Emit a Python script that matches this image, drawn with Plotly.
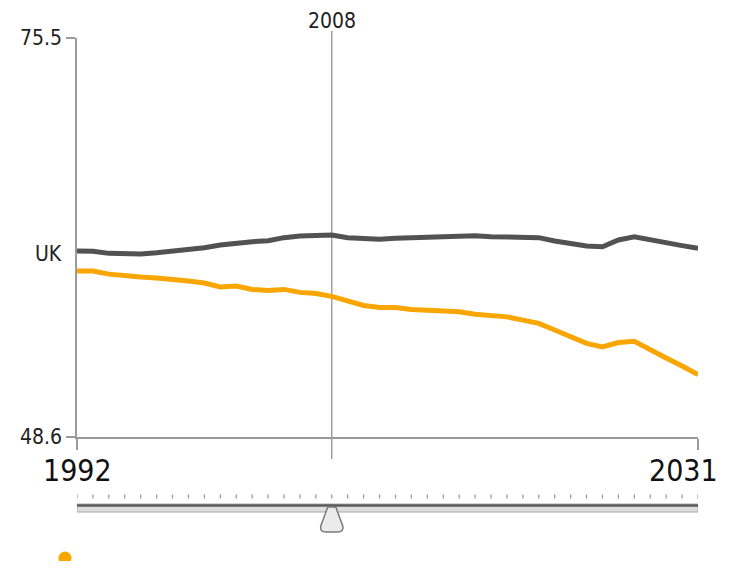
import plotly.graph_objects as go

years = list(range(1992, 2032))
uk = [61.14, 61.12, 60.98, 60.94, 60.94, 61.02, 61.14, 61.21, 61.36, 61.54,
      61.68, 61.77, 61.83, 62.04, 62.15, 62.22, 62.22, 62.04, 62.00, 61.93,
      62.00, 62.04, 62.10, 62.10, 62.10, 62.17, 62.10, 62.10, 62.10, 62.04,
      61.81, 61.66, 61.48, 61.43, 61.88, 62.10, 61.88, 61.70, 61.50, 61.32]
region = [59.79, 59.79, 59.58, 59.45, 59.38, 59.32, 59.25, 59.11, 58.98, 58.71,
          58.78, 58.55, 58.48, 58.55, 58.35, 58.28, 58.08, 57.81, 57.47, 57.33,
          57.33, 57.20, 57.13, 57.13, 57.04, 56.88, 56.82, 56.70, 56.48, 56.26,
          55.81, 55.35, 54.91, 54.68, 54.97, 55.06, 54.45, 53.93, 53.39, 52.81]
y_min, y_max = 48.6, 75.5
x_ticks = [1992, 2031]
y_tick_text = ["48.6", "75.5"]
selected_year = 2008
uk_label = "UK"

FONT = "DejaVu Sans Condensed, sans-serif"
GRAY = "#525252"
ORANGE = "#f9a602"
AXIS = "#9a9a9a"

OFF = 8
W, H = 730 - OFF, 569 - 2 * OFF
PL, PR, PT, PB = 77 - OFF, 698 - OFF, 38 - OFF, 437 - OFF
H_PLOT = float(PB - PT)
W_PLOT = float(PR - PL)

fig = go.Figure()
fig.add_trace(go.Scatter(x=years, y=uk, mode="lines",
                         line=dict(color=GRAY, width=5), showlegend=False,
                         hoverinfo="skip"))
fig.add_trace(go.Scatter(x=years, y=region, mode="lines",
                         line=dict(color=ORANGE, width=5), showlegend=False,
                         hoverinfo="skip"))

def py(p):
    return (PB - (p - OFF)) / H_PLOT

def px(p):
    return ((p - OFF) - PL) / W_PLOT

shapes = []
shapes.append(dict(type="line", xref="x", yref="paper", x0=selected_year, x1=selected_year,
                   y0=py(459), y1=py(31), line=dict(color="#8a8a8a", width=1.2), layer="below"))
for yr in years:
    shapes.append(dict(type="line", xref="x", yref="paper", x0=yr, x1=yr,
                       y0=py(498.5), y1=py(494.5), line=dict(color="#9a9a9a", width=1.3)))
shapes.append(dict(type="rect", xref="x", yref="paper", x0=years[0], x1=years[-1],
                   y0=py(512), y1=py(504), fillcolor="#dedede", line=dict(color="#a8a8a8", width=1)))
shapes.append(dict(type="line", xref="x", yref="paper", x0=years[0], x1=years[-1],
                   y0=py(505.5), y1=py(505.5), line=dict(color="#5a5a5a", width=2.5)))
shapes.append(dict(type="path", xref="x", yref="paper", xsizemode="pixel", ysizemode="pixel",
                   xanchor=selected_year, yanchor=py(507),
                   path="M -4,0 L -11,-19 Q -12,-25 -6,-25 L 6,-25 Q 12,-25 11,-19 L 4,0 Z",
                   fillcolor="#ebebeb", line=dict(color="#7a7a7a", width=1.5)))
shapes.append(dict(type="circle", xref="paper", yref="paper", xsizemode="pixel", ysizemode="pixel",
                   xanchor=px(65), yanchor=py(558),
                   x0=-6.5, x1=6.5, y0=-6.5, y1=6.5, fillcolor=ORANGE, line=dict(width=0)))

annotations = [
    dict(text=str(selected_year), x=selected_year, xref="x", y=py(21), yref="paper",
         showarrow=False, font=dict(family=FONT, size=21, color="#222"),
         xanchor="center", yanchor="middle"),
    dict(text=uk_label, x=px(64), xref="paper", y=uk[0], yref="y",
         showarrow=False, font=dict(family=FONT, size=21, color="#222"),
         xanchor="right", yanchor="middle", yshift=-3),
    dict(text=str(x_ticks[0]), x=x_ticks[0], xref="x", y=py(471), yref="paper",
         showarrow=False, font=dict(family=FONT, size=30, color="#111"),
         xanchor="center", yanchor="middle"),
    dict(text=str(x_ticks[1]), x=x_ticks[1], xref="x", y=py(471), yref="paper",
         showarrow=False, font=dict(family=FONT, size=30, color="#111"),
         xanchor="right", yanchor="middle", xshift=22),
]

fig.update_layout(
    width=W, height=H, autosize=False,
    margin=dict(l=PL, r=W - PR, t=PT, b=H - PB, pad=0, autoexpand=False),
    paper_bgcolor="white", plot_bgcolor="white",
    shapes=shapes, annotations=annotations,
    xaxis=dict(range=[years[0], years[-1]], showgrid=False, zeroline=False, automargin=False,
               showline=True, linecolor=AXIS, linewidth=1.5,
               ticks="outside", ticklen=11, tickcolor=AXIS, tickwidth=1.5,
               tickvals=x_ticks, showticklabels=False, fixedrange=True),
    yaxis=dict(range=[y_min, y_max], showgrid=False, zeroline=False, automargin=False,
               showline=True, linecolor=AXIS, linewidth=1.5,
               ticks="outside", ticklen=9, tickcolor=AXIS, tickwidth=1.5,
               tickvals=[y_min, y_max], ticktext=y_tick_text,
               tickfont=dict(family=FONT, size=21, color="#222"), fixedrange=True),
)

fig.write_html("out.html")
